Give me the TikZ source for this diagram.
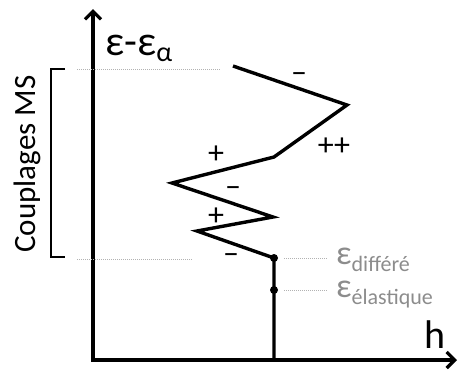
\documentclass[tikz,border=0pt]{standalone}
\usepackage{fontspec}
\setmainfont{Carlito}
\usetikzlibrary{arrows.meta}
\begin{document}
\begin{tikzpicture}[
  x=1pt, y=-1pt,
  axis/.style={line width=3.2pt, {Straight Barb[length=8pt,width=16pt]}-{Straight Barb[length=8pt,width=16pt]}},
  curve/.style={line width=3.4pt, line join=miter},
  guide/.style={gray!60, line width=1pt, dash pattern=on 1pt off 1pt},
  brace/.style={line width=1.3pt},
  sgn/.style={font=\fontsize{32}{32}\selectfont, inner sep=0pt},
  lvl/.style={font=\fontsize{34}{34}\selectfont, text=gray!90, anchor=base west, inner sep=0pt},
  dot/.style={circle, fill=black, inner sep=0pt, minimum size=8pt}
]
\useasboundingbox (0,0) rectangle (458,370);
% axes
\coordinate (ytop) at (93,9);
\coordinate (orig) at (93,360);
\coordinate (xend) at (457,360);
\draw[axis] (ytop) -- (orig) -- (xend);
\node[anchor=base west, inner sep=0pt, font=\fontsize{42}{42}\selectfont] (ylab) at (105,55)
  {ε-ε\raisebox{-6pt}{\fontsize{28}{28}\selectfont α}};
\node[anchor=base west, inner sep=0pt, font=\fontsize{40}{40}\selectfont] (xlab) at (424,348) {h};
% zigzag
\coordinate (p0) at (233,66);
\coordinate (p1) at (347,105);
\coordinate (p2) at (274,157);
\coordinate (p3) at (172,183);
\coordinate (p4) at (273,217);
\coordinate (p5) at (197,231);
\node[dot] (dif) at (274,258) {};
\node[dot] (ela) at (274,290) {};
\coordinate (base) at (274,360);
\draw[curve] (p0) -- (p1) -- (p2) -- (p3) -- (p4) -- (p5) -- (dif.center) -- (base);
% signs
\node[sgn] (s1) at (299,78) {–};
\node[sgn] (s2) at (334,147) {++};
\node[sgn] (s3) at (216,155) {+};
\node[sgn] (s4) at (233,192) {–};
\node[sgn] (s5) at (216,217) {+};
\node[sgn] (s6) at (231,259) {–};
% levels
\coordinate (gtl) at (77,69);
\coordinate (gtr) at (220,69);
\coordinate (gbl) at (77,259);
\coordinate (gbr) at (193,259);
\draw[guide] (gtl) -- (gtr);
\draw[guide] (gbl) -- (gbr);
\node[lvl] (edif) at (336,264) {ε\raisebox{-7pt}{\fontsize{22}{22}\selectfont différé}};
\node[lvl] (eela) at (336,297) {ε\raisebox{-7pt}{\fontsize{22}{22}\selectfont élastique}};
\draw[guide] ([xshift=10pt]dif.center) -- ([xshift=-9pt]edif.base west |- dif.center);
\draw[guide] ([xshift=10pt]ela.center) -- ([xshift=-9pt]eela.base west |- ela.center);
% bracket
\draw[brace] (65,69) -- (51,69) -- (51,257) -- (65,257);
\node[rotate=90, font=\fontsize{31}{31}\selectfont] (cms) at (27,164) {Couplages MS};
\end{tikzpicture}
\end{document}
